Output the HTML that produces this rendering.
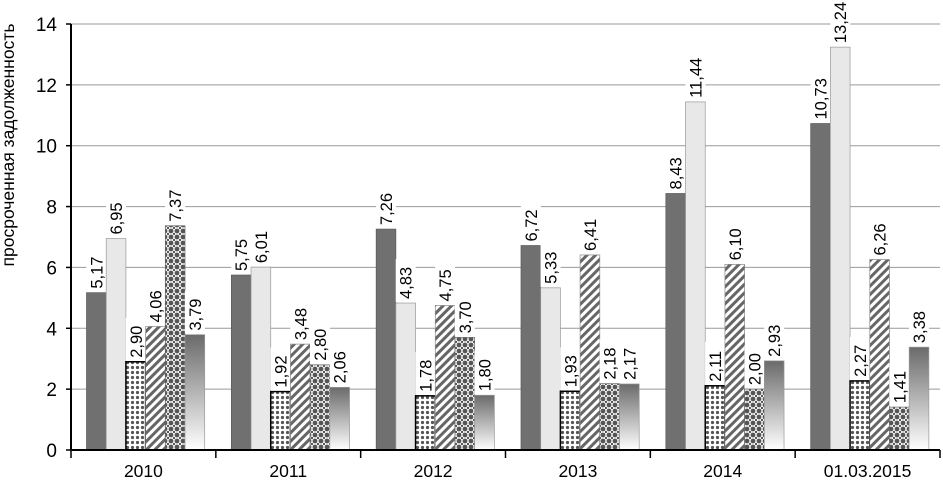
<!DOCTYPE html>
<html><head><meta charset="utf-8"><style>
body{margin:0;background:#fff}
text{font-family:"Liberation Sans",sans-serif}
</style></head><body>
<svg id="chart" width="943" height="480" xmlns="http://www.w3.org/2000/svg">
<defs>
<pattern id="p3" width="5" height="5" patternUnits="userSpaceOnUse"><rect width="5" height="5" fill="#fff"/><circle cx="2.5" cy="2.5" r="1.6" fill="#555"/></pattern>
<pattern id="p4" width="6" height="6" patternUnits="userSpaceOnUse" patternTransform="rotate(45)"><rect width="6" height="6" fill="#fff"/><rect width="3" height="6" fill="#666"/></pattern>
<pattern id="p5" width="6" height="6" patternUnits="userSpaceOnUse"><rect width="6" height="6" fill="#fff"/><circle cx="3" cy="3" r="2.4" fill="#555"/><circle cx="0" cy="0" r="1.2" fill="#555"/><circle cx="6" cy="6" r="1.2" fill="#555"/><circle cx="0" cy="6" r="1.2" fill="#555"/><circle cx="6" cy="0" r="1.2" fill="#555"/></pattern>
<linearGradient id="g6" x1="0" y1="0" x2="0" y2="1"><stop offset="0" stop-color="#6a6a6a"/><stop offset="1" stop-color="#fff"/></linearGradient>
</defs>
<g id="grid"></g><g id="bars"></g><g id="axes"></g>
<text transform="translate(14,145) rotate(-90)" text-anchor="middle" font-size="17.5" fill="#000">просроченная задолженность</text>
</svg>
<script>
const categories=["2010","2011","2012","2013","2014","01.03.2015"];
const s1=[5.17,5.75,7.26,6.72,8.43,10.73];
const s2=[6.95,6.01,4.83,5.33,11.44,13.24];
const s3=[2.90,1.92,1.78,1.93,2.11,2.27];
const s4=[4.06,3.48,4.75,6.41,6.10,6.26];
const s5=[7.37,2.80,3.70,2.18,2.00,1.41];
const s6=[3.79,2.06,1.80,2.17,2.93,3.38];
const yTicks=[0,2,4,6,8,10,12,14];
const series=[s1,s2,s3,s4,s5,s6];
const fills=["#707070","#e8e8e8","url(#p3)","url(#p4)","url(#p5)","url(#g6)"];
const strokes=["#5a5a5a","#999","#000","#888","#666","#999"];
const NS="http://www.w3.org/2000/svg";
const x0=71,x1=940,yTop=24,yBot=450,yMax=14;
const y=v=>yBot-(v/yMax)*(yBot-yTop);
const gw=(x1-x0)/categories.length;
const bw=19.7, off=15.5;
function mk(t,a,p){const e=document.createElementNS(NS,t);for(const k in a)e.setAttribute(k,a[k]);p.appendChild(e);return e;}
const grid=document.getElementById('grid'),bars=document.getElementById('bars'),axes=document.getElementById('axes');
yTicks.forEach(t=>{
 if(t>0){const l=mk('line',{x1:x0,x2:x1,y1:y(t),y2:y(t),stroke:'#999','stroke-width':1},grid);
 
 }
 const tk=mk('line',{x1:x0-5,x2:x0,y1:y(t),y2:y(t),stroke:'#000','stroke-width':1.5},axes);
 
 
 const tx=mk('text',{x:x0-14,y:y(t)+7,'text-anchor':'end','font-size':19,fill:'#000'},axes);tx.textContent=t;
 
 
});
categories.forEach((c,i)=>{
 const gx=x0+i*gw;
 series.forEach((s,j)=>{
  const bx=gx+off+j*bw, v=s[i];
  const r=mk('rect',{x:bx,y:y(v),width:bw,height:yBot-y(v),fill:fills[j],stroke:strokes[j],'stroke-width':j==2?1.5:0.7},bars);
  
  
  const lbl=v.toFixed(2).replace('.',',');
  const cx=bx+bw/2, ty=y(v)-1;
  const bg=mk('rect',{x:cx-10,y:ty-43,width:20,height:43,fill:'#fff'},bars);
  
  
  const t=mk('text',{transform:`translate(${cx+6},${ty-3}) rotate(-90)`,'font-size':16.5,fill:'#000'},bars);
  t.textContent=lbl;
  
  
 });
 const tx=mk('text',{x:gx+gw/2,y:477,'text-anchor':'middle','font-size':17.5,fill:'#000'},axes);tx.textContent=c;
 
 
});
for(let i=0;i<=categories.length;i++){
 const tk=mk('line',{x1:x0+i*gw,x2:x0+i*gw,y1:yBot,y2:yBot+8,stroke:'#000','stroke-width':1.5},axes);
 
 
}
const ya=mk('line',{x1:x0,x2:x0,y1:yTop,y2:yBot,stroke:'#000','stroke-width':2},axes);


const xa=mk('line',{x1:x0,x2:x1,y1:yBot,y2:yBot,stroke:'#000','stroke-width':2},axes);


</script>
</body></html>
